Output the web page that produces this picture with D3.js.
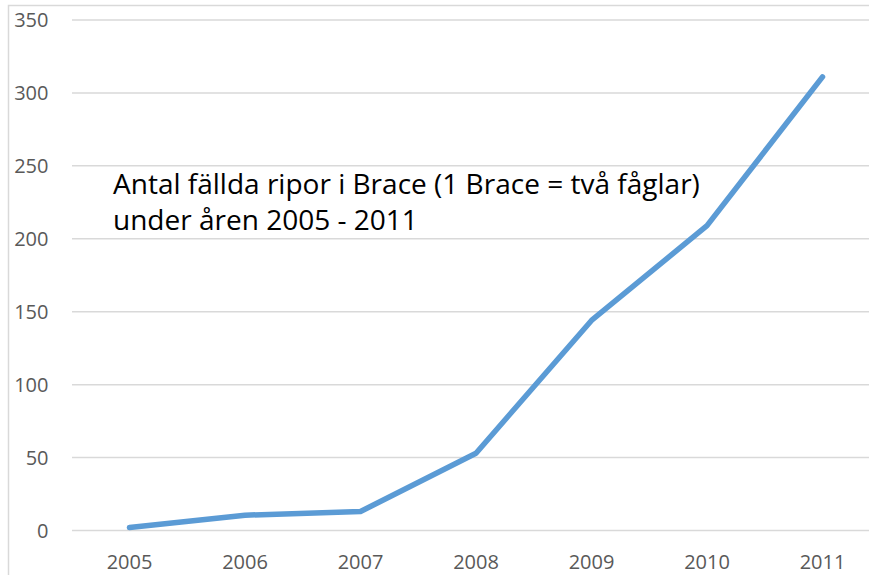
<!DOCTYPE html>
<html><head><meta charset="utf-8">
<script src="https://cdn.jsdelivr.net/npm/d3@7"></script>
<style>body{margin:0;background:#fff}svg{display:block}</style>
</head><body><svg id="c" width="869" height="575"></svg>
<script>
const years = ["2005","2006","2007","2008","2009","2010","2011"];
const values = [2, 10.5, 13, 53, 144, 209, 311];
const yTicks = [0, 50, 100, 150, 200, 250, 300, 350];
const titleLines = ["Antal fällda ripor i Brace (1 Brace = två fåglar)", "under åren 2005 - 2011"];

const svg = d3.select("#c");
const font = "'Open Sans', sans-serif";
svg.append("rect").attr("x", 8.5).attr("y", 5.5).attr("width", 900).attr("height", 600)
  .attr("fill", "none").attr("stroke", "#d9d9d9").attr("stroke-width", 1.5);

const x = d3.scaleBand().domain(years).range([71.75, 880.25]);
const y = d3.scaleLinear().domain([0, 350]).range([530.5, 20]);

svg.append("g").selectAll("line").data(yTicks).join("line")
  .attr("x1", 72).attr("x2", 900)
  .attr("y1", d => y(d)).attr("y2", d => y(d))
  .attr("stroke", "#d9d9d9").attr("stroke-width", 1.5);

svg.append("g").selectAll("text").data(yTicks).join("text")
  .attr("x", 48.5).attr("y", d => y(d)).attr("dy", "0.36em")
  .attr("text-anchor", "end").attr("fill", "#595959")
  .style("font", "20px " + font).text(d => d);

svg.append("g").selectAll("text").data(years).join("text")
  .attr("x", d => x(d) + x.bandwidth() / 2).attr("y", 569)
  .attr("text-anchor", "middle").attr("fill", "#595959")
  .style("font", "20px " + font).text(d => d);

const line = d3.line().x((d, i) => x(years[i]) + x.bandwidth() / 2).y(d => y(d));
svg.append("path").datum(values).attr("d", line)
  .attr("fill", "none").attr("stroke", "#5b9bd5").attr("stroke-width", 5.5)
  .attr("stroke-linecap", "round").attr("stroke-linejoin", "round");

const tt = svg.append("g").selectAll("text").data(titleLines).join("text")
  .attr("x", 113).attr("y", (d, i) => 193.5 + i * 36.7)
  .attr("fill", "#000").style("font-family", font).style("font-size", "24px").text(d => d);
const w = tt.nodes()[0].getComputedTextLength();
tt.style("font-size", (24 * 587 / w) + "px");
</script></body></html>
